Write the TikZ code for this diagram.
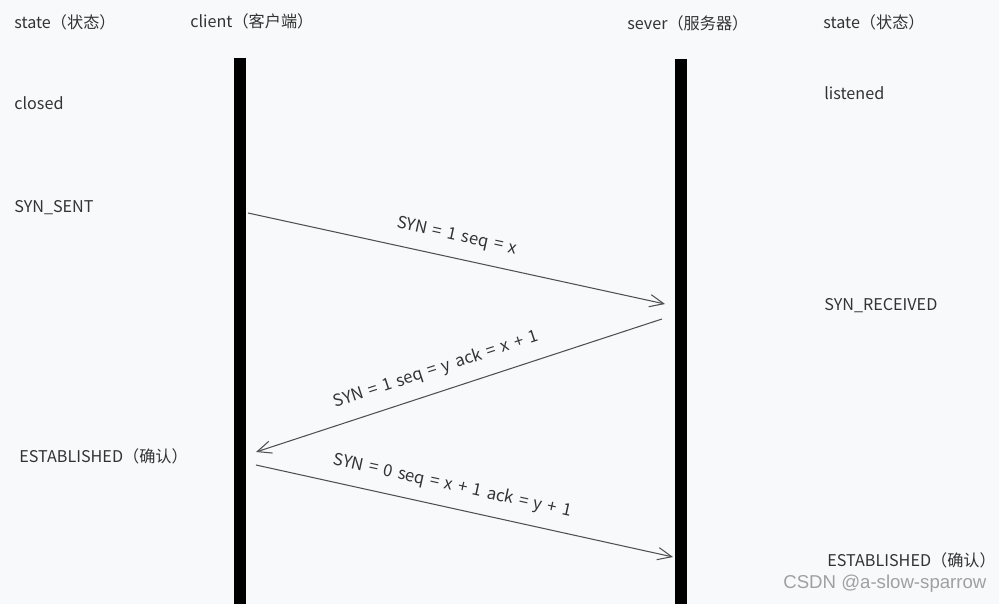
\documentclass[tikz,border=0pt]{standalone}
\usepackage{fontspec}
\setmainfont{Noto Sans CJK SC}
\newfontfamily\msgfont{Noto Sans CJK SC}[WordSpace=1.5]
\newfontfamily\markfont{Liberation Sans}
\usetikzlibrary{
    arrows.meta,
    positioning,
}
\definecolor{bgpage}{HTML}{F8F9FA}
\definecolor{txtdark}{HTML}{333333}
\definecolor{msgline}{HTML}{505050}
\definecolor{wmark}{HTML}{A0A0A0}

\begin{document}
\begin{tikzpicture}[
    x=0.02cm, y=-0.02cm,
    >={Straight Barb[length=8pt,width=7pt]},
    txt/.style   = {anchor=west, inner sep=0pt, text=txtdark,
                    font=\fontsize{9.2}{11}\selectfont},
    life/.style  = {line width=0.24cm, black},
    msg/.style   = {->, draw=msgline, line width=0.6pt},
    lbl/.style   = {sloped, above=4pt, text=txtdark,
                    font=\msgfont\fontsize{9.5}{11}\selectfont},
]

%% ── Page ─────────────────────────────────────────────────────────────────────
\fill[bgpage] (0,0) rectangle (999,604);
\useasboundingbox (0,0) rectangle (999,604);

%% ── Headings ─────────────────────────────────────────────────────────────────
\node[txt] (stl) at (14,22)  {state（状态）};
\node[txt] (cli) at (190,21) {client（客户端）};
\node[txt] (srv) at (627,23) {sever（服务器）};
\node[txt] (str) at (823,22) {state（状态）};

%% ── States ───────────────────────────────────────────────────────────────────
\node[txt] (closed)  at (14,103)  {closed};
\node[txt] (listen)  at (824,93)  {listened};
\node[txt] (synsent) at (14,208)  {SYN\_SENT};
\node[txt] (synrcvd) at (824,306) {SYN\_RECEIVED};
\node[txt] (estl)    at (19,456)  {ESTABLISHED（确认）};
\node[txt] (estr)    at (827,560) {ESTABLISHED（确认）};

%% ── Lifelines ────────────────────────────────────────────────────────────────
\coordinate (clitop) at (239.5,58);
\coordinate (clibot) at (239.5,604);
\coordinate (srvtop) at (680.5,59);
\coordinate (srvbot) at (680.5,604);
\draw[life] (clitop) -- (clibot);
\draw[life] (srvtop) -- (srvbot);

%% ── Handshake ────────────────────────────────────────────────────────────────
\coordinate (m1a) at (248,213);
\coordinate (m1b) at (665,304);
\coordinate (m2a) at (662,319);
\coordinate (m2b) at (256,452);
\coordinate (m3a) at (256,465);
\coordinate (m3b) at (673,557);

\draw[msg] (m1a) -- node[lbl, pos=0.49] {SYN = 1 seq = x} (m1b);
\draw[msg, <-] (m2b) -- node[lbl, pos=0.46] {SYN = 1 seq = y ack = x + 1} (m2a);
\draw[msg] (m3a) -- node[lbl, pos=0.46] {SYN = 0 seq = x + 1 ack = y + 1} (m3b);

%% ── Watermark ────────────────────────────────────────────────────────────────
\node[anchor=west, inner sep=0pt, text=wmark,
      font=\markfont\fontsize{10.6}{12}\selectfont] (wm) at (783,584)
      {CSDN @a-slow-sparrow};

\end{tikzpicture}
\end{document}
